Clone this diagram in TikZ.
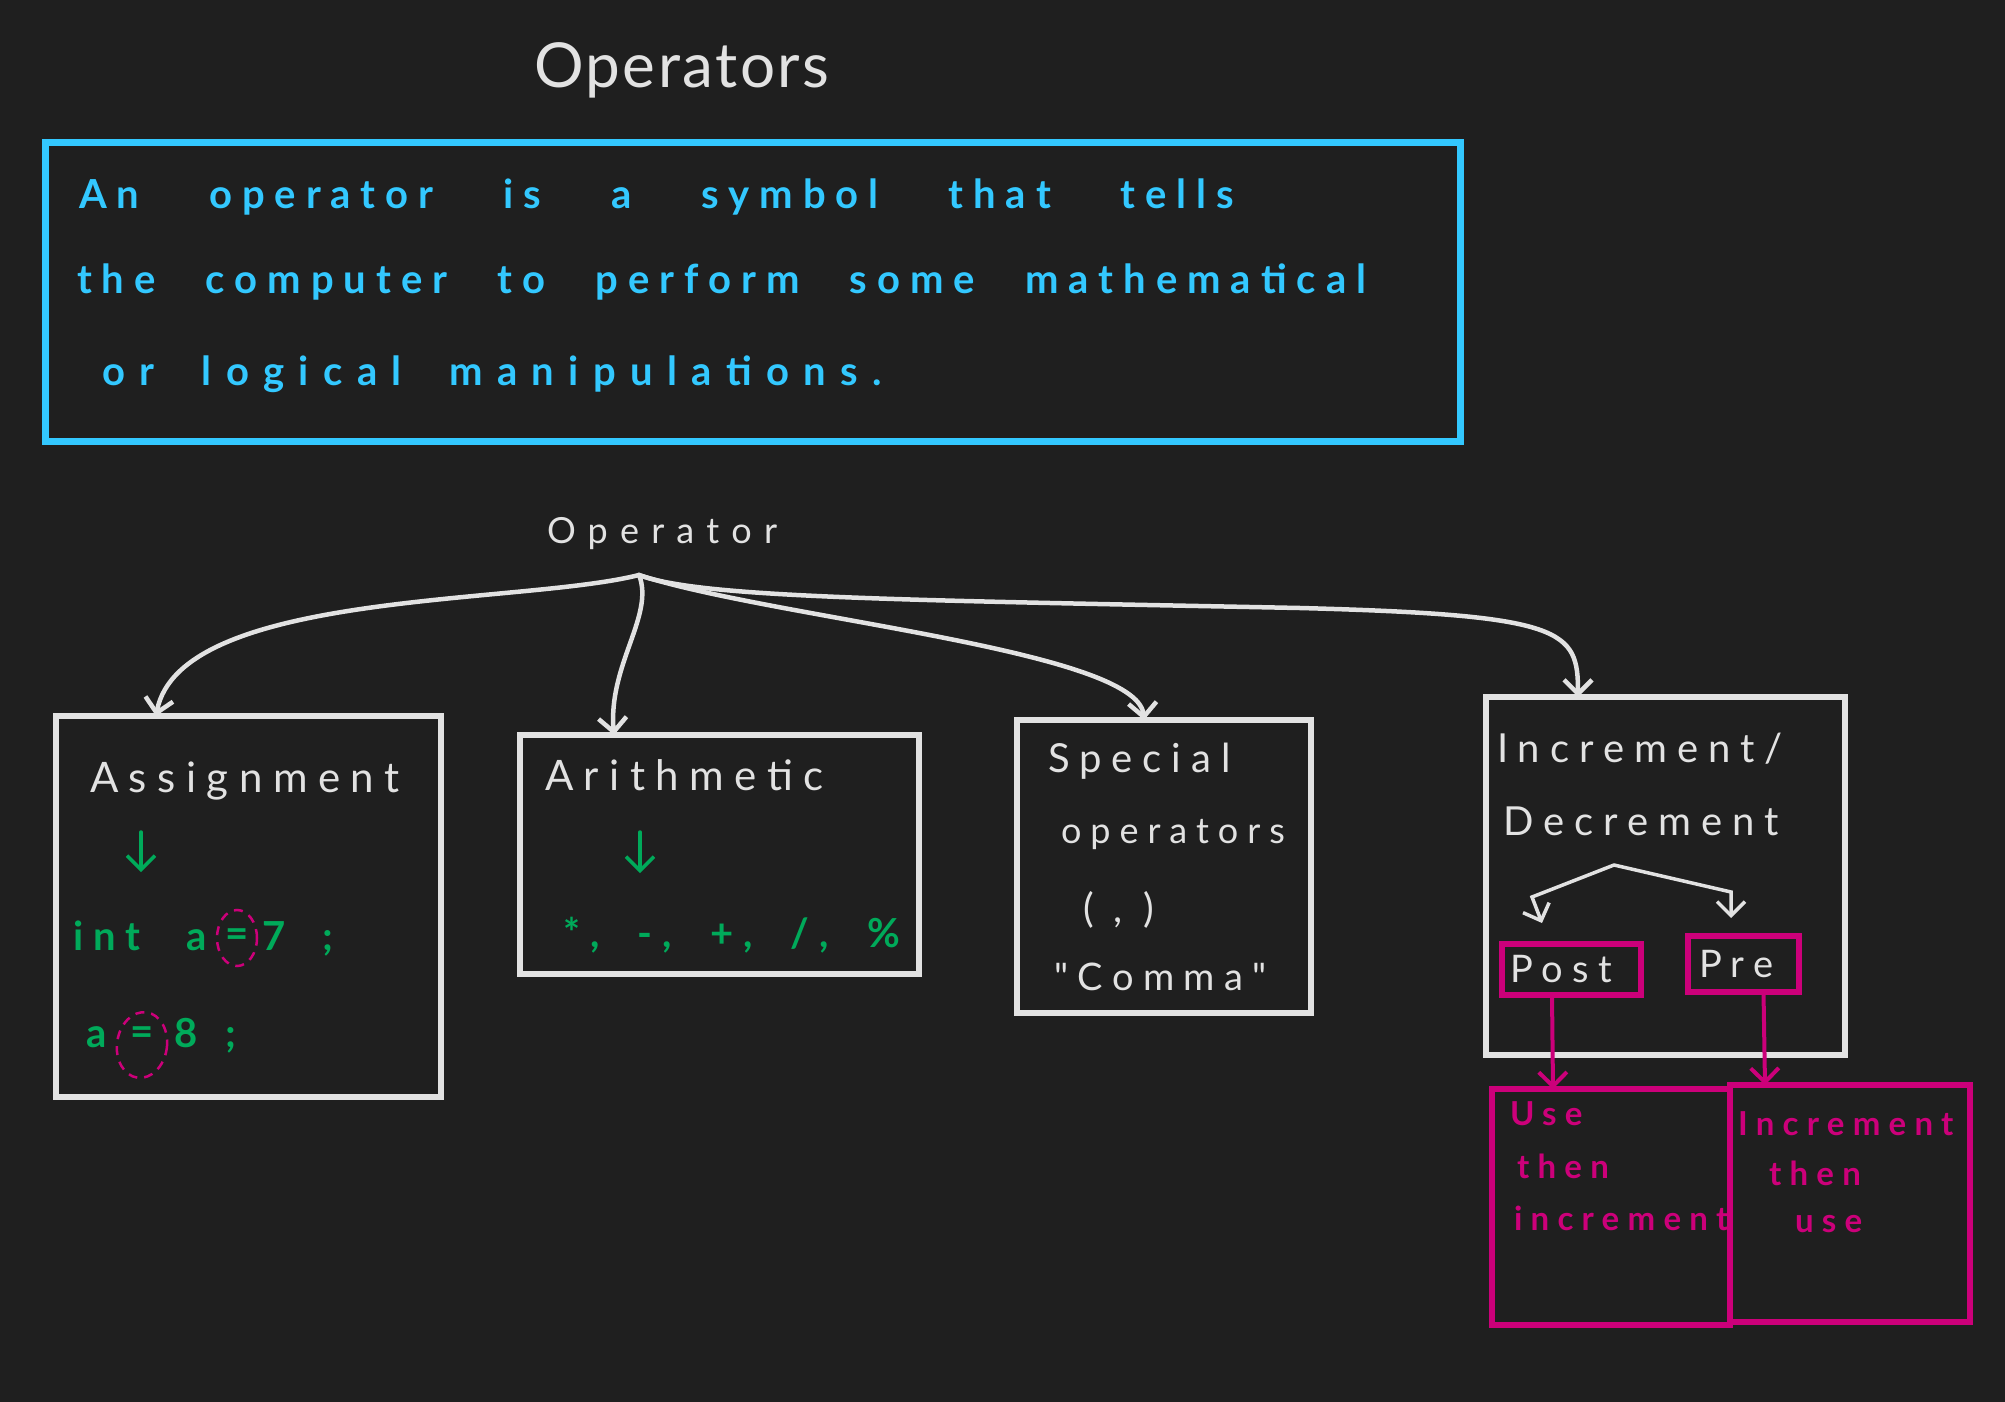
\documentclass[tikz,border=0pt]{standalone}
\usepackage{fontspec}
\setmainfont{Lato}
\newfontfamily\hand[LetterSpace=25]{Lato}
\newfontfamily\titlefont[LetterSpace=4]{Lato}
\usetikzlibrary{arrows.meta,fit,shapes.geometric}
\definecolor{bg}{RGB}{31,31,31}
\definecolor{ink}{RGB}{226,226,226}
\definecolor{sky}{RGB}{51,200,255}
\definecolor{grn}{RGB}{0,170,90}
\definecolor{mag}{RGB}{204,0,122}
\begin{document}
\begin{tikzpicture}[x=1pt,y=-1pt,
  box/.style={draw=ink, line width=5.5pt, inner sep=0pt, outer sep=0pt, line cap=round},
  mbox/.style={draw=mag, line width=5.5pt, inner sep=0pt, outer sep=0pt},
  txt/.style={anchor=base west, inner sep=0pt, outer sep=0pt, text=ink, font={\hand\fontsize{40}{48}\selectfont}},
  btxt/.style={txt, text=sky, font={\hand\bfseries\fontsize{40}{48}\selectfont}},
  gtxt/.style={txt, text=grn, font={\hand\bfseries\fontsize{40}{48}\selectfont}},
  mtxt/.style={txt, text=mag, font={\hand\bfseries\fontsize{33}{40}\selectfont}},
  arr/.style={draw=ink, line width=4.5pt, line cap=round, -{Straight Barb[length=14pt,width=28pt]}},
  garr/.style={arr, draw=grn, line width=3.5pt},
  marr/.style={arr, draw=mag, line width=4pt},
  ring/.style={draw=mag, ellipse, dashed, line width=2.5pt, dash pattern=on 9pt off 7pt, inner sep=0pt},
 ]
\fill[bg] (0,0) rectangle (2005,1402);
\useasboundingbox (0,0) rectangle (2005,1402);

% title
\node[txt, font={\titlefont\fontsize{62}{70}\selectfont}] (title) at (534,88) {Operators};

% definition box
\node[draw=sky, line width=7pt, inner sep=0pt, outer sep=0pt, fit={(45,143) (1460,441)}] (defbox) {};
\node[btxt] (l1) at (79,208) {\makebox[1155pt][s]{An operator is a symbol that tells}};
\node[btxt] (l2) at (77,293) {\makebox[1289pt][s]{the computer to perform some mathematical}};
\node[btxt, font={\hand\bfseries\fontsize{40}{48}\selectfont\addfontfeature{LetterSpace=36}}] (l3) at (102,385) {\makebox[780pt][s]{or logical manipulations.}};

% root label
\node[txt, font={\hand\fontsize{36}{42}\selectfont\addfontfeature{LetterSpace=34}}] (op) at (547,543) {Operator};
\coordinate (src) at (639,575);

% category boxes
\node[box, fit={(56,716) (441,1097)}] (asg) {};
\node[box, fit={(520,735) (919,974)}] (ari) {};
\node[box, fit={(1017,720) (1311,1013)}] (spc) {};
\node[box, fit={(1486,697) (1845,1055)}] (inc) {};

% connectors from root
\draw[arr] (src) .. controls (520,605) and (180,590) .. ([xshift=100pt]asg.north west);
\draw[arr] (src) .. controls (655,615) and (608,665) .. ([xshift=94pt]ari.north west);
\draw[arr] (src) .. controls (770,618) and (1138,650) .. ([xshift=127pt]spc.north west);
\draw[arr] (src) .. controls (700,598) and (900,600) .. (1300,608) .. controls (1565,615) and (1578,630) .. ([xshift=92pt]inc.north west);

% Assignment
\node[txt, font={\hand\fontsize{42}{48}\selectfont}] (asgt) at (90,792) {Assignment};
\coordinate (ga1) at (141,832);
\coordinate (ga2) at (141,872);
\draw[garr] (ga1) -- (ga2);
\node[gtxt] (i1) at (73,950) {int};
\node[gtxt] (i2) at (186,950) {a};
\node[gtxt, anchor=center] (i3) at (237,938) {=};
\node[gtxt] (i4) at (262,950) {7};
\node[gtxt] (i5) at (322,950) {;};
\node[ring, minimum width=40pt, minimum height=56pt] (e1) at (237,938) {};
\node[gtxt] (j1) at (86,1047) {a};
\node[gtxt, anchor=center] (j2) at (142,1036) {=};
\node[gtxt] (j3) at (174,1047) {8};
\node[gtxt] (j4) at (225,1047) {;};
\node[ring, minimum width=50pt, minimum height=66pt, rotate=-8] (e2) at (142,1045) {};

% Arithmetic
\node[txt, font={\hand\fontsize{42}{48}\selectfont}] (arit) at (545,790) {Arithmetic};
\coordinate (gb1) at (640,832);
\coordinate (gb2) at (640,873);
\draw[garr] (gb1) -- (gb2);
\node[gtxt] (ops) at (563,947) {\makebox[337pt][s]{*, -, +, /, \%}};

% Special
\node[txt] (s1) at (1048,772) {Special};
\node[txt, font={\hand\fontsize{36}{44}\selectfont}] (s2) at (1061,843) {operators};
\node[txt] (s3) at (1083,922) {( , )};
\node[txt, font={\hand\fontsize{38}{44}\selectfont}] (s4) at (1054,990) {"Comma"};

% Increment / Decrement
\node[txt] (n1) at (1497,762) {Increment/};
\node[txt] (n2) at (1503,835) {Decrement};
\node[mbox, fit={(1502,944) (1641,995)}] (post) {};
\node[mbox, fit={(1688,936) (1799,992)}] (pre) {};
\node[txt, font={\hand\fontsize{38}{44}\selectfont}] (postt) at (1510,982) {Post};
\node[txt, font={\hand\fontsize{38}{44}\selectfont}] (pret) at (1699,977) {Pre};
\coordinate (apex) at (1614,865);
\draw[arr, line width=3.5pt] (apex) -- (1532,897) -- ([xshift=-29.5pt,yshift=21pt]post.north);
\draw[arr, line width=3.5pt] (apex) -- (1731,892) -- ([xshift=-12.5pt,yshift=18pt]pre.north);

% post / pre meaning boxes
\node[mbox, fit={(1492,1089) (1730,1325)}] (use) {};
\node[mbox, fit={(1730,1085) (1970,1322)}] (inc2) {};
\draw[marr] ([xshift=-19.5pt]post.south) -- ([xshift=61pt]use.north west);
\draw[marr] ([xshift=20pt]pre.south) -- ([xshift=35pt]inc2.north west);

\node[mtxt] (u1) at (1510,1125) {Use};
\node[mtxt] (u2) at (1517,1178) {then};
\node[mtxt] (u3) at (1514,1230) {increment};
\node[mtxt] (v1) at (1738,1135) {Increment};
\node[mtxt] (v2) at (1769,1185) {then};
\node[mtxt] (v3) at (1795,1232) {use};
\end{tikzpicture}
\end{document}
